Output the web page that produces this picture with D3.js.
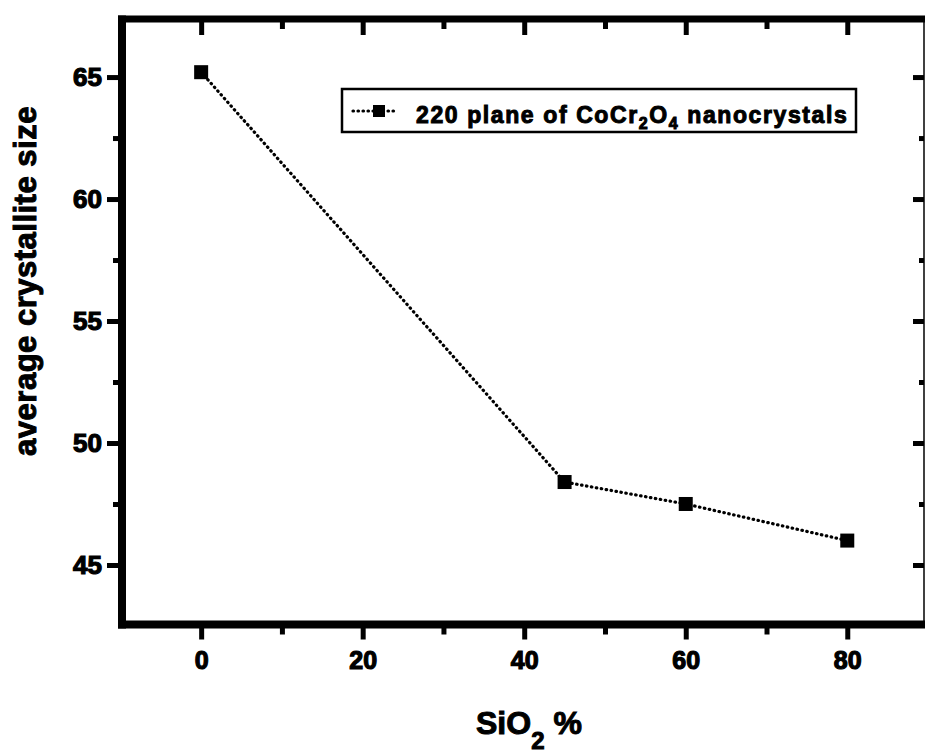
<!DOCTYPE html>
<html>
<head>
<meta charset="utf-8">
<script src="https://cdn.jsdelivr.net/npm/d3@7"></script>
<style>
  html, body { margin: 0; padding: 0; background: #fff; }
  svg { display: block; }
  text { font-family: "Liberation Sans", Arial, Helvetica, sans-serif; font-weight: bold; fill: #000; }
</style>
</head>
<body>
<script>
// SiO2 content (%) and average crystallite size of the (220) plane
const sio2Percent = [0, 45, 60, 80];
const crystalliteSize = [65.2, 48.4, 47.5, 46.0];

const xMajorTicks = [0, 20, 40, 60, 80];
const xMinorTicks = [10, 30, 50, 70];
const yMajorTicks = [45, 50, 55, 60, 65];
const yMinorTicks = [47.5, 52.5, 57.5, 62.5];

const seriesLabel = ["220 plane of CoCr", "2", "O", "4", " nanocrystals"];
const xTitle = ["SiO", "2", " %"];
const yTitle = "average crystallite size";

const W = 925, H = 756;
const frame = { left: 122, right: 924, top: 19, bottom: 624.5 };

const svg = d3.select("body").append("svg")
  .attr("width", W).attr("height", H);

const x = d3.scaleLinear().domain([-9.8, 89.5]).range([frame.left, frame.right]);
const y = d3.scaleLinear().domain([42.56, 67.38]).range([frame.bottom, frame.top]);

function styleTicks(g, width) {
  g.select(".domain").remove();
  g.selectAll(".tick line").attr("stroke", "#000").attr("stroke-width", width);
}
function styleLabels(g, size) {
  g.selectAll(".tick text")
    .attr("fill", "#000")
    .style("font-size", size + "px")
    .style("font-weight", "bold")
    .style("font-family", "'Liberation Sans', Arial, sans-serif")
    .attr("stroke", "#000").attr("stroke-width", 1.2)
    .attr("paint-order", "stroke");
}

// bottom axis: outward ticks with labels
svg.append("g").attr("transform", `translate(0,${frame.bottom})`)
  .call(d3.axisBottom(x).tickValues(xMajorTicks).tickSize(15).tickPadding(12).tickFormat(d3.format("d")))
  .call(g => { styleTicks(g, 5); styleLabels(g, 25); });
svg.append("g").attr("transform", `translate(0,${frame.bottom})`)
  .call(d3.axisBottom(x).tickValues(xMinorTicks).tickSize(10).tickFormat(""))
  .call(g => styleTicks(g, 5));

// top axis: inward ticks
svg.append("g").attr("transform", `translate(0,${frame.top})`)
  .call(d3.axisBottom(x).tickValues(xMajorTicks).tickSize(16).tickFormat(""))
  .call(g => styleTicks(g, 5));
svg.append("g").attr("transform", `translate(0,${frame.top})`)
  .call(d3.axisBottom(x).tickValues(xMinorTicks).tickSize(10).tickFormat(""))
  .call(g => styleTicks(g, 5));

// left axis: outward ticks with labels
svg.append("g").attr("transform", `translate(${frame.left},0)`)
  .call(d3.axisLeft(y).tickValues(yMajorTicks).tickSize(15).tickPadding(5).tickFormat(d3.format("d")))
  .call(g => { styleTicks(g, 5); styleLabels(g, 26); });
svg.append("g").attr("transform", `translate(${frame.left},0)`)
  .call(d3.axisLeft(y).tickValues(yMinorTicks).tickSize(9).tickFormat(""))
  .call(g => styleTicks(g, 5));

// right axis: inward ticks
svg.append("g").attr("transform", `translate(${frame.right},0)`)
  .call(d3.axisLeft(y).tickValues(yMajorTicks).tickSize(11).tickFormat(""))
  .call(g => styleTicks(g, 5));
svg.append("g").attr("transform", `translate(${frame.right},0)`)
  .call(d3.axisLeft(y).tickValues(yMinorTicks).tickSize(5).tickFormat(""))
  .call(g => styleTicks(g, 5));

// frame
svg.append("line").attr("x1", frame.left - 4).attr("x2", frame.right + 1)
  .attr("y1", frame.top).attr("y2", frame.top)
  .attr("stroke", "#000").attr("stroke-width", 7);
svg.append("line").attr("x1", frame.left - 4).attr("x2", frame.right + 1)
  .attr("y1", frame.bottom).attr("y2", frame.bottom)
  .attr("stroke", "#000").attr("stroke-width", 8);
svg.append("line").attr("x1", frame.left).attr("x2", frame.left)
  .attr("y1", frame.top - 3.5).attr("y2", frame.bottom + 4)
  .attr("stroke", "#000").attr("stroke-width", 8);
svg.append("line").attr("x1", frame.right).attr("x2", frame.right)
  .attr("y1", frame.top).attr("y2", frame.bottom)
  .attr("stroke", "#000").attr("stroke-width", 1.5);

// data series: dotted line with square markers
const pts = sio2Percent.map((v, i) => [v, crystalliteSize[i]]);
svg.append("path")
  .datum(pts)
  .attr("d", d3.line().x(d => x(d[0])).y(d => y(d[1])))
  .attr("fill", "none").attr("stroke", "#000")
  .attr("stroke-width", 3.2).attr("stroke-dasharray", "0.5 4.5")
  .attr("stroke-linecap", "round");
const sq = 14;
svg.selectAll("rect.pt").data(pts).join("rect")
  .attr("class", "pt")
  .attr("x", d => x(d[0]) - sq / 2).attr("y", d => y(d[1]) - sq / 2)
  .attr("width", sq).attr("height", sq).attr("fill", "#000");

// legend
const leg = svg.append("g");
leg.append("rect").attr("x", 342).attr("y", 89).attr("width", 514).attr("height", 43)
  .attr("fill", "#fff").attr("stroke", "#000").attr("stroke-width", 2.5);
leg.append("line").attr("x1", 353).attr("x2", 398).attr("y1", 111).attr("y2", 111)
  .attr("stroke", "#000").attr("stroke-width", 3.2).attr("stroke-dasharray", "0.5 4.5")
  .attr("stroke-linecap", "round");
leg.append("rect").attr("x", 373).attr("y", 105).attr("width", 12).attr("height", 12).attr("fill", "#000");
const lt = leg.append("text").attr("x", 416).attr("y", 123)
  .style("font-size", "23px").style("letter-spacing", "1.6px")
  .attr("stroke", "#000").attr("stroke-width", 1).attr("paint-order", "stroke");
lt.append("tspan").text(seriesLabel[0]);
lt.append("tspan").text(seriesLabel[1]).style("font-size", "16px").attr("dy", 6);
lt.append("tspan").text(seriesLabel[2]).attr("dy", -6);
lt.append("tspan").text(seriesLabel[3]).style("font-size", "16px").attr("dy", 6);
lt.append("tspan").text(seriesLabel[4]).attr("dy", -6);

// axis titles
const xt = svg.append("text").attr("x", 476).attr("y", 734)
  .style("font-size", "32px")
  .attr("stroke", "#000").attr("stroke-width", 1).attr("paint-order", "stroke");
xt.append("tspan").text(xTitle[0]);
xt.append("tspan").text(xTitle[1]).style("font-size", "24px").attr("dy", 15);
xt.append("tspan").text(xTitle[2]).attr("dy", -15);

svg.append("text")
  .attr("transform", "translate(36,281) rotate(-90)")
  .attr("text-anchor", "middle")
  .style("font-size", "31px").style("letter-spacing", "0.5px")
  .attr("stroke", "#000").attr("stroke-width", 1).attr("paint-order", "stroke")
  .text(yTitle);
</script>
</body>
</html>
